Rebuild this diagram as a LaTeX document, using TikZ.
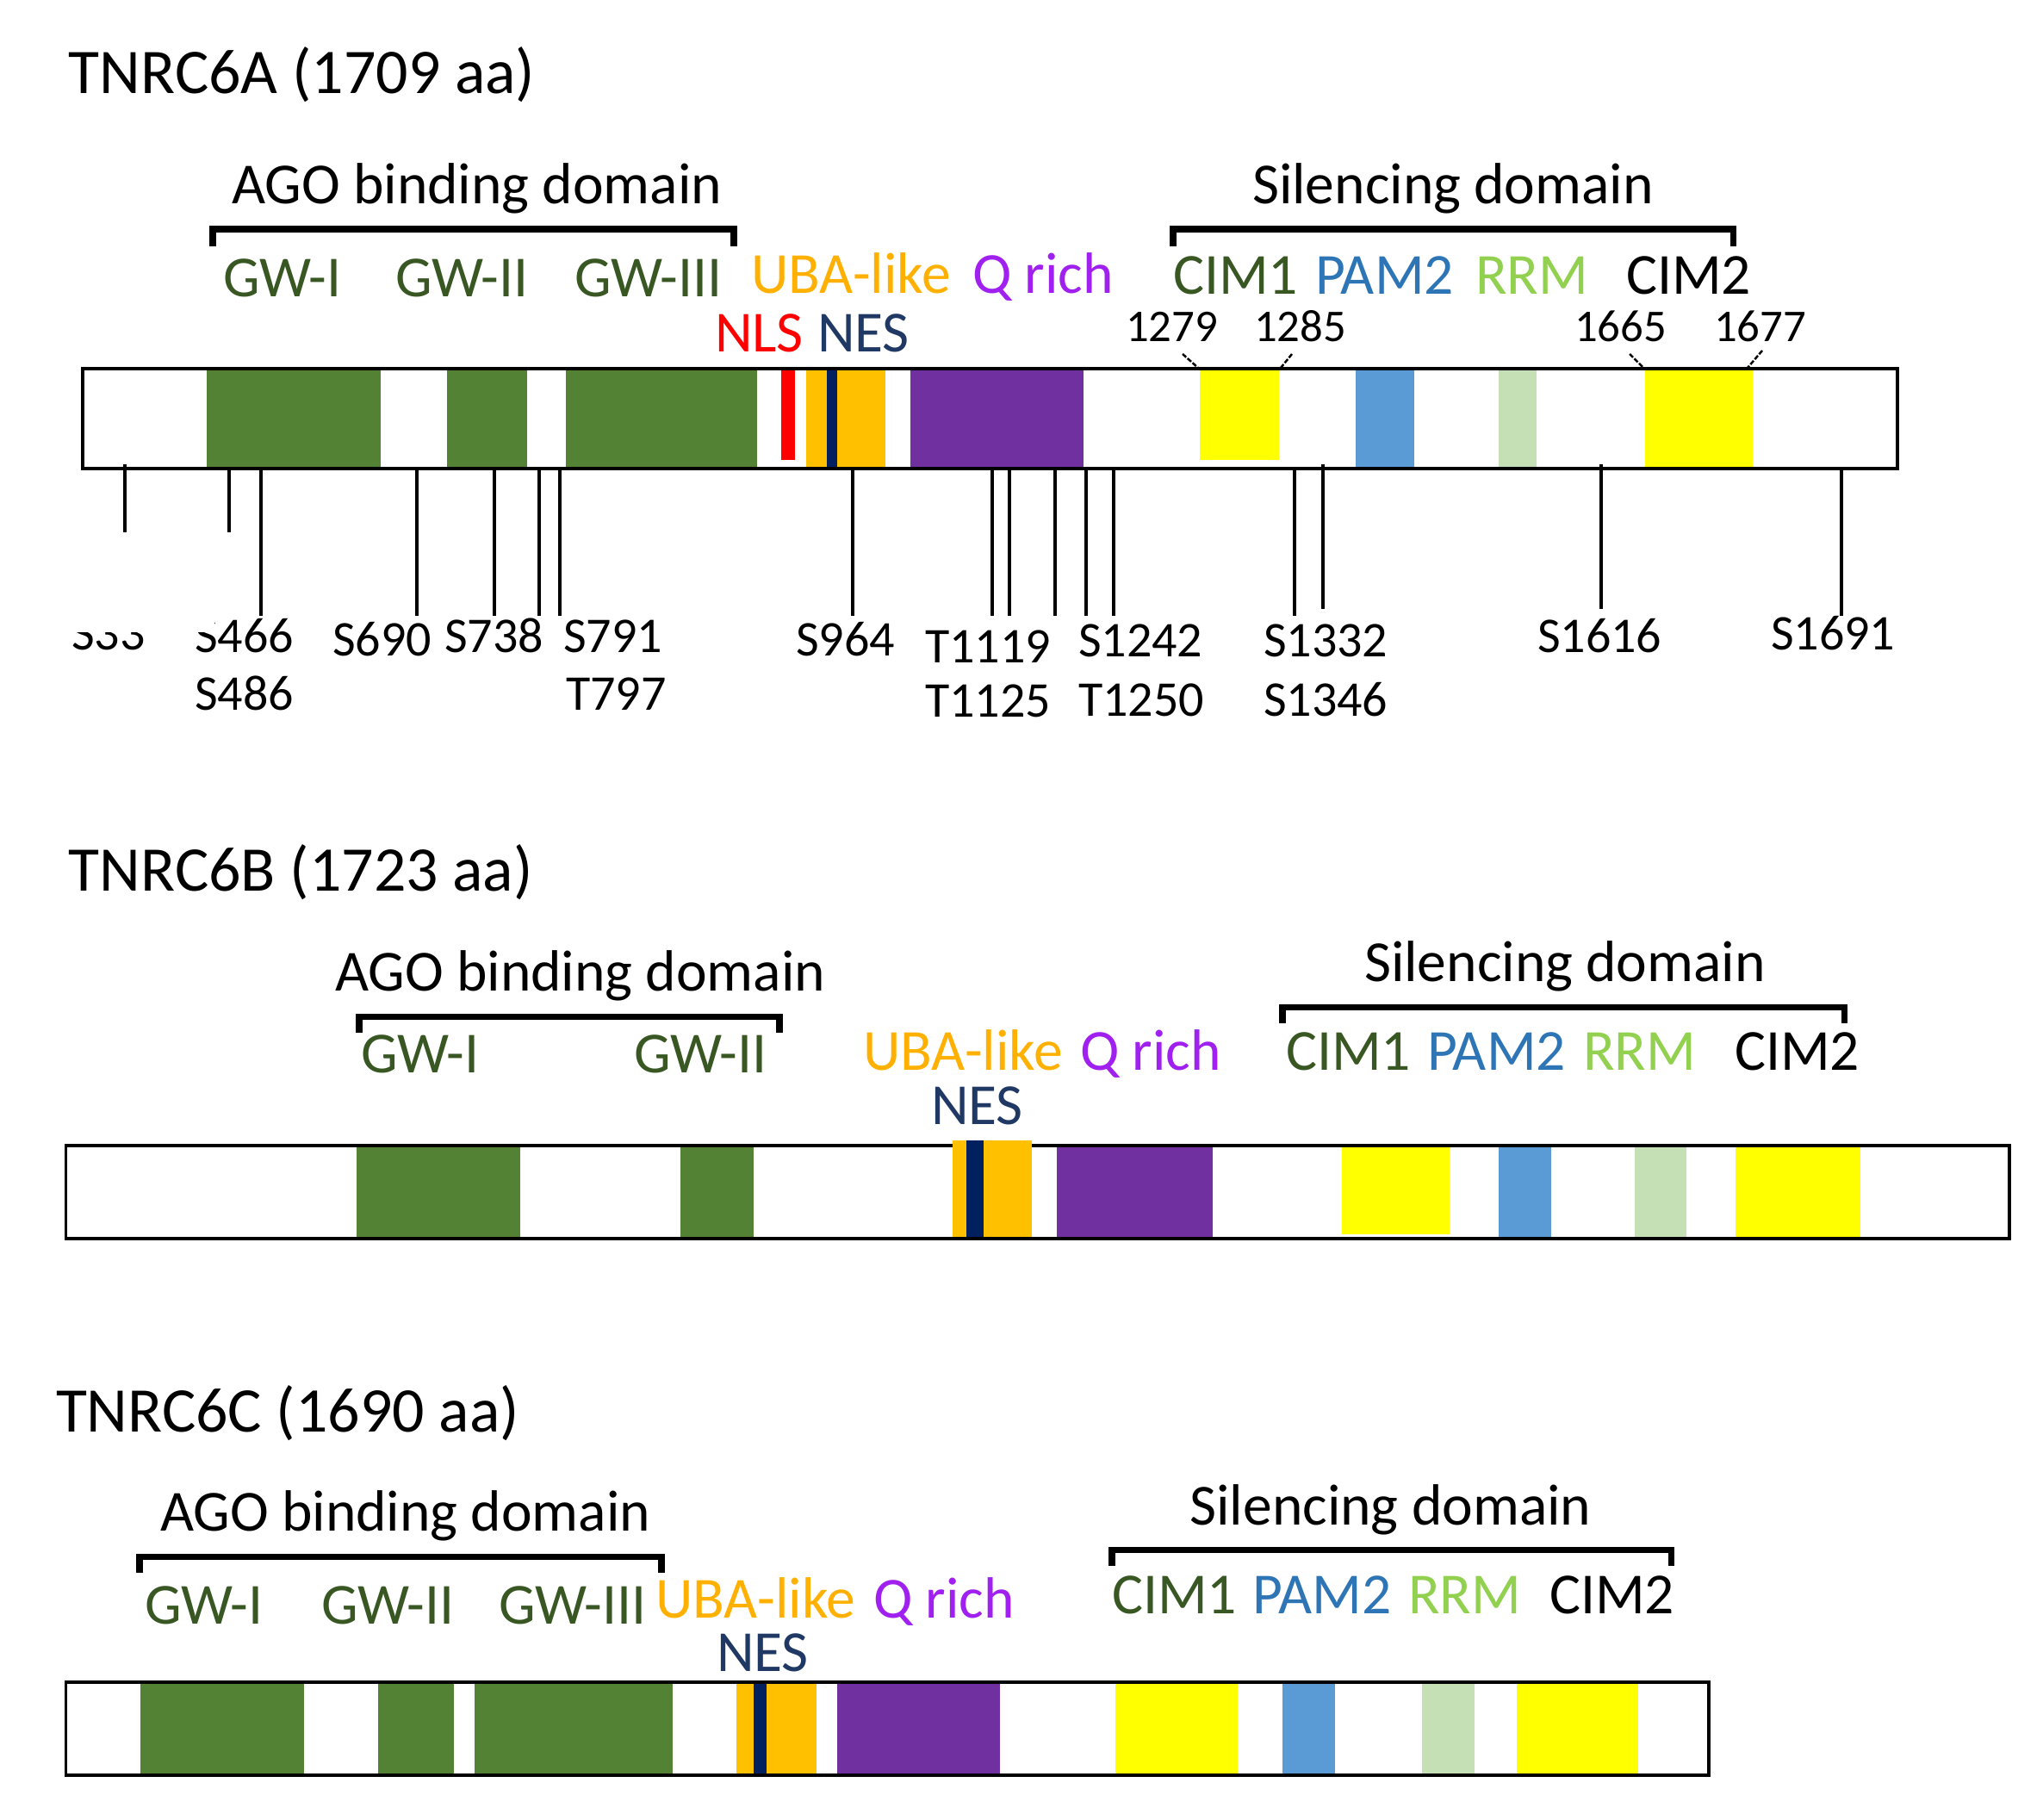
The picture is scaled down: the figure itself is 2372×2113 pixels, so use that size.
\documentclass[tikz,border=0pt]{standalone}
\usepackage{fontspec}
\setmainfont{Carlito}
\newcommand\fTitle{\fontsize{21pt}{25pt}\selectfont}
\newcommand\fLab{\fontsize{19.2pt}{23pt}\selectfont}
\newcommand\fPh{\fontsize{16.5pt}{19pt}\selectfont}
\newcommand\fNum{\fontsize{15pt}{18pt}\selectfont}
\definecolor{cgreen}{HTML}{548235}
\definecolor{corange}{HTML}{FFC000}
\definecolor{cnavy}{HTML}{002060}
\definecolor{cred}{HTML}{FF0000}
\definecolor{cpurple}{HTML}{7030A0}
\definecolor{cyellow}{HTML}{FFFF00}
\definecolor{cblue}{HTML}{5B9BD5}
\definecolor{clgreen}{HTML}{C5E0B4}
\definecolor{tgw}{HTML}{385723}
\definecolor{tuba}{HTML}{FFB000}
\definecolor{tq}{HTML}{A020F0}
\definecolor{tnes}{HTML}{1F3864}
\definecolor{tpam}{HTML}{2E75B6}
\definecolor{trrm}{HTML}{92D050}
\begin{document}
\begin{tikzpicture}[x=0.01cm,y=-0.01cm,
  lab/.style={anchor=base west,inner sep=0pt,outer sep=0pt,font=\fLab,text depth=0pt},
  ttl/.style={anchor=base west,inner sep=0pt,outer sep=0pt,font=\fTitle},
  ph/.style={anchor=base west,inner sep=0pt,outer sep=0pt,font=\fPh},
  num/.style={anchor=base west,inner sep=0pt,outer sep=0pt,font=\fNum},
  barbox/.style={draw=black,line width=1.05pt},
  brack/.style={draw=black,line width=2pt},
  site/.style={draw=black,line width=0.9pt},
  ntick/.style={draw=black,line width=0.7pt,dash pattern=on 1.6pt off 0.6pt}]
\useasboundingbox (0,0) rectangle (2372,2113);

%% ================= TNRC6A =================
\node[ttl] (a-title) at (80,109) {TNRC6A (1709 aa)};
\node[lab] (a-ago) at (269,237) {AGO binding domain};
\draw[brack] (247,286) -- (247,266) -- (852,266) -- (852,286);
\node[lab,text=tgw] (a-gw1) at (259,345) {GW-I};
\node[lab,text=tgw] (a-gw2) at (459,345) {GW-II};
\node[lab,text=tgw] (a-gw3) at (667,345) {GW-III};
\node[lab,text=tuba] (a-uba) at (872,341) {UBA-like};
\node[lab,text=tq] (a-q) at (1129,341) {Q rich};
\node[lab,text=cred] (a-nls) at (830,409) {NLS};
\node[lab,text=tnes] (a-nes) at (949,409) {NES};
\node[lab] (a-sil) at (1454,237) {Silencing domain};
\draw[brack] (1362,286) -- (1362,266) -- (2012,266) -- (2012,286);
\node[lab,text=tgw] (a-cim1) at (1362,342) {CIM1};
\node[lab,text=tpam] (a-pam) at (1527,342) {PAM2};
\node[lab,text=trrm] (a-rrm) at (1713,342) {RRM};
\node[lab] (a-cim2) at (1888,342) {CIM2};
\node[num] (n1279) at (1307,397) {1279};
\node[num] (n1285) at (1456,397) {1285};
\node[num] (n1665) at (1828,397) {1665};
\node[num] (n1677) at (1990,397) {1677};
% bar
\fill[white] (96,428) rectangle (2203,544);
\fill[cgreen] (240,428) rectangle (442,544);
\fill[cgreen] (519,428) rectangle (612,544);
\fill[cgreen] (657,428) rectangle (879,544);
\fill[cred] (907,428) rectangle (923,534);
\fill[corange] (936,428) rectangle (1028,544);
\fill[cnavy] (960,428) rectangle (972,544);
\fill[cpurple] (1057,428) rectangle (1258,544);
\fill[cyellow] (1393,428) rectangle (1485,534);
\fill[cblue] (1574,428) rectangle (1642,544);
\fill[clgreen] (1740,428) rectangle (1784,544);
\fill[cyellow] (1910,428) rectangle (2035,544);
\draw[barbox] (96,428) rectangle (2203,544);
\draw[ntick] (1373,411) -- (1391,427);
\draw[ntick] (1500,411) -- (1487,427);
\draw[ntick] (1892,411) -- (1908,427);
\draw[ntick] (2046,407) -- (2029,427);
% phosphorylation sites
\draw[site] (145,539) -- (145,618);
\draw[site] (266,545) -- (266,618);
\foreach \px in {303,484,574,626,650,990,1152,1172,1225,1261,1293,1503,2138}
  \draw[site] (\px,545) -- (\px,715);
\draw[site] (1536,539) -- (1536,707);
\draw[site] (1859,539) -- (1859,707);
\node[ph] (p0) at (83,755) {S33};
\node[ph] (p466) at (226,758) {S466};
\node[ph] (p486) at (226,825) {S486};
\node[ph] (p690) at (386,762) {S690};
\node[ph] (p738) at (516,758) {S738};
\node[ph] (p791) at (654,758) {S791};
\node[ph] (p797) at (657,825) {T797};
\node[ph] (p964) at (924,762) {S964};
\node[ph] (p1119) at (1074,770) {T1119};
\node[ph] (p1125) at (1074,833) {T1125};
\node[ph] (p1242) at (1252,763) {S1242};
\node[ph] (p1250) at (1252,832) {T1250};
\node[ph] (p1332) at (1467,763) {S1332};
\node[ph] (p1346) at (1467,832) {S1346};
\node[ph] (p1616) at (1785,758) {S1616};
\node[ph] (p1691) at (2056,755) {S1691};
\fill[white] (60,640) rectangle (249,734);

%% ================= TNRC6B =================
\node[ttl] (b-title) at (80,1035) {TNRC6B (1723 aa)};
\node[lab] (b-ago) at (389,1151) {AGO binding domain};
\draw[brack] (417,1199) -- (417,1180.5) -- (905,1180.5) -- (905,1199);
\node[lab,text=tgw] (b-gw1) at (419,1246) {GW-I};
\node[lab,text=tgw] (b-gw2) at (736,1246) {GW-II};
\node[lab,text=tuba] (b-uba) at (1002,1242) {UBA-like};
\node[lab,text=tq] (b-q) at (1254,1243) {Q rich};
\node[lab,text=tnes] (b-nes) at (1081,1306) {NES};
\node[lab] (b-sil) at (1584,1140) {Silencing domain};
\draw[brack] (1489,1188) -- (1489,1169.5) -- (2141,1169.5) -- (2141,1188);
\node[lab,text=tgw] (b-cim1) at (1493,1243) {CIM1};
\node[lab,text=tpam] (b-pam) at (1657,1243) {PAM2};
\node[lab,text=trrm] (b-rrm) at (1838,1243) {RRM};
\node[lab] (b-cim2) at (2014,1243) {CIM2};
\fill[white] (76.5,1330) rectangle (2333,1438);
\fill[cgreen] (414,1330) rectangle (604,1438);
\fill[cgreen] (790,1330) rectangle (875,1438);
\fill[cpurple] (1227,1330) rectangle (1408,1438);
\fill[cyellow] (1558,1330) rectangle (1683,1433);
\fill[cblue] (1740,1330) rectangle (1801,1438);
\fill[clgreen] (1898,1330) rectangle (1958,1438);
\fill[cyellow] (2015,1330) rectangle (2160,1438);
\draw[barbox] (76.5,1330) rectangle (2333,1438);
\fill[corange] (1106,1324) rectangle (1198,1436);
\fill[cnavy] (1122,1324) rectangle (1142,1436);

%% ================= TNRC6C =================
\node[ttl] (c-title) at (65,1662) {TNRC6C (1690 aa)};
\node[lab] (c-ago) at (186,1777) {AGO binding domain};
\draw[brack] (162,1826) -- (162,1807.5) -- (768,1807.5) -- (768,1826);
\node[lab,text=tgw] (c-gw1) at (168,1885) {GW-I};
\node[lab,text=tgw] (c-gw2) at (373,1885) {GW-II};
\node[lab,text=tgw] (c-gw3) at (579,1885) {GW-III};
\node[lab,text=tuba] (c-uba) at (761.5,1878) {UBA-like};
\node[lab,text=tq] (c-q) at (1014,1878) {Q rich};
\node[lab,text=tnes] (c-nes) at (832,1940) {NES};
\node[lab] (c-sil) at (1381.5,1770) {Silencing domain};
\draw[brack] (1291,1818) -- (1291,1799.5) -- (1940,1799.5) -- (1940,1818);
\node[lab,text=tgw] (c-cim1) at (1291,1873) {CIM1};
\node[lab,text=tpam] (c-pam) at (1454.5,1873) {PAM2};
\node[lab,text=trrm] (c-rrm) at (1635,1873) {RRM};
\node[lab] (c-cim2) at (1799,1873) {CIM2};
\fill[white] (76.5,1953) rectangle (1984,2061);
\fill[cgreen] (163,1953) rectangle (353,2061);
\fill[cgreen] (438.5,1953) rectangle (527,2061);
\fill[cgreen] (551,1953) rectangle (781,2061);
\fill[corange] (855,1953) rectangle (947.5,2061);
\fill[cnavy] (875,1953) rectangle (890,2061);
\fill[cpurple] (972,1953) rectangle (1161,2061);
\fill[cyellow] (1295,1953) rectangle (1437,2061);
\fill[cblue] (1489,1953) rectangle (1550,2061);
\fill[clgreen] (1651,1953) rectangle (1712,2061);
\fill[cyellow] (1761,1953) rectangle (1902,2061);
\draw[barbox] (76.5,1953) rectangle (1984,2061);
\end{tikzpicture}
\end{document}
